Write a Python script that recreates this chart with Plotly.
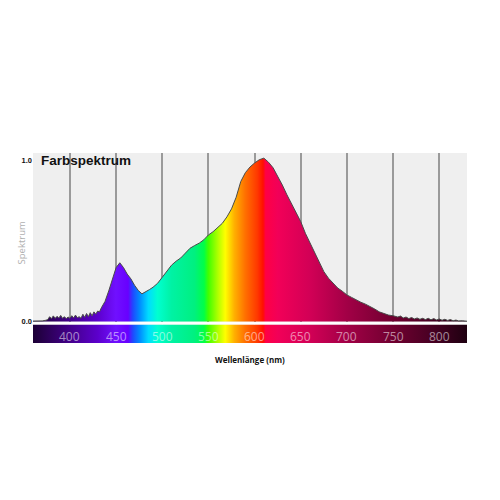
import plotly.graph_objects as go

# ---- data ----
wavelength = [360, 365, 370, 374, 376, 378, 380, 382, 384, 386, 388, 390, 392, 394, 396, 398, 400,
              402, 404, 406, 408, 410, 412, 414, 416, 418, 420, 422, 424, 426, 428, 430, 432, 434,
              438, 442, 446, 450, 454, 458, 462, 466, 470, 474, 478, 482, 486, 490, 495,
              500, 505, 510, 515, 520, 525, 530, 535, 540, 545, 550, 555, 560, 565, 570, 575, 580,
              585, 590, 595, 600, 605, 610, 615, 620, 625, 630, 635, 640, 645, 650, 655, 660, 665,
              670, 675, 680, 685, 690, 695, 700, 705, 710, 715, 720, 725, 730, 735, 740, 745, 750,
              755, 758, 761, 764, 767, 770, 773, 776, 779, 782, 785, 788, 791, 794, 797, 800, 803,
              806, 809, 812, 815, 818, 821, 825, 830]
spectrum = [0.003, 0.003, 0.004, 0.008, 0.012, 0.030, 0.018, 0.035, 0.020, 0.032, 0.022, 0.038,
            0.020, 0.030, 0.018, 0.028, 0.020, 0.036, 0.022, 0.040, 0.024, 0.030, 0.020, 0.045,
            0.026, 0.050, 0.030, 0.055, 0.035, 0.060, 0.045, 0.065, 0.060, 0.085,
            0.125, 0.190, 0.265, 0.335, 0.365, 0.335, 0.295, 0.265, 0.225, 0.193, 0.172, 0.183,
            0.198, 0.213, 0.238, 0.275, 0.315,
            0.35, 0.375, 0.395, 0.425, 0.455, 0.472, 0.487, 0.508, 0.538, 0.558, 0.584, 0.61,
            0.65, 0.70, 0.772, 0.87, 0.925, 0.96, 0.985, 1.005, 1.015, 0.99, 0.955, 0.905,
            0.848, 0.787, 0.731, 0.675, 0.62, 0.548, 0.487, 0.421, 0.36, 0.31, 0.269, 0.238,
            0.208, 0.188, 0.165, 0.15, 0.134, 0.12, 0.108, 0.095, 0.078, 0.06, 0.05, 0.04, 0.036,
            0.028, 0.034, 0.022, 0.028, 0.018, 0.025, 0.016, 0.022, 0.014, 0.020, 0.012, 0.020,
            0.011, 0.018, 0.010, 0.016, 0.008, 0.014, 0.007, 0.012, 0.005, 0.009, 0.004, 0.005,
            0.002]
x_ticks = [400, 450, 500, 550, 600, 650, 700, 750, 800]
x_range = [360, 830]

# spectral colour palette (styling)
spectral_scale = [
    [0.000, "#1c0035"], [0.085, "#43008a"], [0.149, "#5c00cc"], [0.191, "#7010ff"],
    [0.219, "#6800ff"], [0.230, "#2048ff"], [0.245, "#0088ff"], [0.266, "#00dcff"],
    [0.287, "#00ffd0"], [0.319, "#00f2a4"], [0.372, "#00f080"], [0.394, "#00ff48"],
    [0.404, "#40ff00"], [0.426, "#b0ff00"], [0.443, "#ffff00"], [0.464, "#ffb000"],
    [0.489, "#ff7000"], [0.517, "#ff3800"], [0.530, "#ff1000"], [0.536, "#ff0045"],
    [0.564, "#f20058"], [0.638, "#d20056"], [0.723, "#a20046"], [0.830, "#700030"],
    [0.936, "#400020"], [1.000, "#1e0010"]]

fig = go.Figure()

# spectrum with gradient fill
fig.add_trace(go.Scatter(
    x=wavelength, y=spectrum, mode="lines", fill="tozeroy",
    line=dict(color="#4a4a4a", width=1),
    fillgradient=dict(type="horizontal", colorscale=spectral_scale,
                      start=x_range[0], stop=x_range[1]),
    xaxis="x", yaxis="y", hoverinfo="skip", showlegend=False))

# colour strip below the plot
fig.add_trace(go.Scatter(
    x=x_range, y=[1, 1], mode="lines", fill="tozeroy",
    line=dict(width=0),
    fillgradient=dict(type="horizontal", colorscale=spectral_scale,
                      start=x_range[0], stop=x_range[1]),
    xaxis="x2", yaxis="y2", hoverinfo="skip", showlegend=False))

annotations = [
    dict(text="<b>Farbspektrum</b>", xref="paper", yref="paper", x=0.014, y=0.958,
         xanchor="left", yanchor="middle", showarrow=False,
         font=dict(family="Liberation Sans", size=13.5, color="#111")),
    dict(text="Spektrum", xref="paper", yref="paper", x=-0.0276, y=0.524,
         xanchor="center", yanchor="middle", textangle=-90, showarrow=False,
         font=dict(family="Open Sans", size=9.5, color="#b0b0b0")),
    dict(text="<b>Wellenlänge (nm)</b>", xref="paper", yref="paper", x=0.499, y=-0.086,
         xanchor="center", yanchor="middle", showarrow=False,
         font=dict(family="Open Sans", size=8, color="#111")),
]
for t in x_ticks:
    annotations.append(dict(text=str(t), xref="x2", yref="y2", x=t, y=0.38,
                            xanchor="center", yanchor="middle", showarrow=False,
                            font=dict(family="Open Sans", size=12,
                                      color="rgba(255,255,255,0.55)")))

fig.update_layout(
    width=500, height=500,
    margin=dict(l=25, r=41, t=145, b=165),
    paper_bgcolor="white", plot_bgcolor="#efefef",
    xaxis=dict(domain=[0, 1], range=x_range, tickvals=x_ticks, showticklabels=False,
               showgrid=True, gridcolor="#9a9a9a", gridwidth=1.5, zeroline=False,
               ticks="outside", ticklen=4, tickcolor="white", tickwidth=1,
               showline=False, anchor="y"),
    yaxis=dict(domain=[0.1105, 1], range=[-0.003, 1.047], tickvals=[0, 1],
               ticktext=["0.0", "1.0"], showgrid=False, zeroline=False,
               tickfont=dict(family="Liberation Sans", size=7.5, color="#111", weight="bold"),
               ticks="", anchor="x"),
    xaxis2=dict(domain=[0, 1], range=x_range, matches="x", showticklabels=False,
                showgrid=False, zeroline=False, ticks="", anchor="y2"),
    yaxis2=dict(domain=[0, 0.097], range=[0, 1], showticklabels=False,
                showgrid=False, zeroline=False, ticks="", anchor="x2"),
    annotations=annotations,
)

fig.write_html("out.html")
